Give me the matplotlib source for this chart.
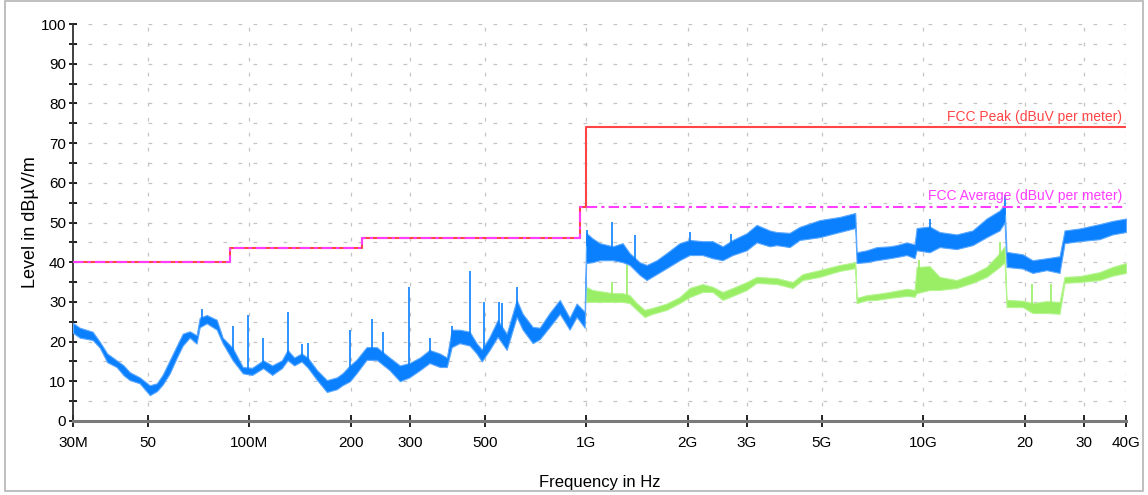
import matplotlib
matplotlib.use("Agg")
import matplotlib.pyplot as plt
from matplotlib.patches import Rectangle

plt.rcParams['font.family'] = ['Liberation Sans', 'DejaVu Sans']

# Peak detector trace (MHz, lower / upper edge of the noise band, dBuV/m)
peak_freq = [30, 31.4, 34.3, 36.0, 37.9, 40.4, 42.4, 44.2, 47.3, 50.7, 53.2, 55.4, 58.1,
             61.0, 63.5, 66.6, 69.8, 71.3, 74.8, 80.1, 83.4, 89.3, 95.7, 102, 110,
             117, 125, 130, 136, 143, 149, 159, 170, 182, 189, 199, 208, 223, 239,
             261, 280, 299, 321, 343, 368, 386, 399, 421, 451, 473, 490, 517, 546,
             581, 622, 648, 694, 728, 779, 835, 893, 937, 990,
             1000, 1003, 1045, 1097, 1199, 1283, 1346, 1441, 1512, 1619, 1733, 1894,
             2028, 2216, 2373, 2541, 2721, 2994, 3206, 3505, 3674, 4017, 4301, 4930,
             5652, 6290, 6348, 6798, 7278, 7953, 8343, 8934, 9436, 9567, 10453,
             11194, 12572, 14023, 15430, 16865, 17450, 17690, 19735, 21136, 23253,
             25410, 26293, 29130, 33390, 36500, 40000]
peak_low = [22.2, 21.0, 20.4, 18.5, 14.8, 13.6, 11.5, 10.3, 9.5, 6.5, 7.5, 9.2, 12.0,
            16.0, 19.0, 21.0, 19.5, 23.6, 24.6, 23.0, 19.6, 15.3, 12.0, 11.6, 13.3,
            11.6, 13.3, 15.3, 14.0, 15.0, 13.5, 10.3, 7.3, 8.0, 9.0, 10.0, 12.0, 15.4, 15.4,
            12.8, 10.0, 11.0, 12.8, 14.6, 13.6, 13.6, 18.6, 19.6, 19.0, 17.0, 15.0, 17.9, 21.2,
            17.9, 26.2, 23.0, 19.6, 20.6, 23.7, 27.0, 23.0, 26.2, 23.5,
            40.0, 39.8, 40.0, 40.5, 40.5, 40.0, 39.3, 36.8, 35.5, 37.0, 38.5, 40.5,
            41.8, 41.8, 41.0, 40.5, 41.8, 43.0, 45.0, 44.0, 44.3, 43.8, 45.6, 46.3,
            47.6, 48.6, 39.8, 40.0, 40.5, 41.0, 41.3, 41.8, 41.0, 43.0, 42.5,
            43.8, 43.3, 44.3, 46.3, 48.0, 50.0, 38.8, 38.4, 37.3, 38.0,
            37.3, 44.8, 45.3, 45.8, 47.0, 47.6]
peak_high = [24.7, 23.5, 22.5, 20.0, 17.0, 15.3, 14.0, 12.3, 11.0, 9.0, 9.5, 11.7, 15.3,
             19.0, 22.0, 22.6, 21.6, 26.0, 26.7, 25.5, 21.0, 18.4, 13.6, 13.4, 15.3,
             14.0, 15.3, 17.9, 16.0, 17.0, 16.0, 12.8, 10.3, 11.0, 12.0, 14.0, 15.4, 18.6, 18.6,
             16.0, 14.0, 14.6, 16.0, 17.9, 17.0, 16.0, 23.0, 23.0, 22.5, 19.6, 18.0, 21.2, 25.4,
             22.0, 30.5, 27.0, 23.7, 23.5, 27.2, 30.5, 26.0, 29.6, 27.5,
             46.0, 47.3, 46.0, 44.8, 44.0, 44.8, 42.3, 40.0, 39.3, 40.5, 42.3, 44.8,
             45.6, 45.3, 45.3, 44.0, 45.6, 47.3, 49.4, 48.0, 47.6, 47.4, 48.9, 50.6,
             51.4, 52.4, 42.5, 43.0, 43.8, 44.0, 44.3, 45.0, 44.5, 48.6, 49.0,
             47.6, 47.0, 48.0, 51.0, 53.0, 54.5, 42.6, 42.0, 40.5, 41.0,
             41.5, 48.0, 48.5, 49.6, 50.4, 51.0]

# Narrow spikes on the peak trace
peak_spike_freq = [72.3, 89.3, 99, 110, 130, 143, 149, 199, 231, 249, 299, 343, 399,
                   451, 497, 551, 561, 622, 1003, 1190, 1393, 2028, 2700, 10453, 17450]
peak_spike_top = [28.2, 24.0, 26.7, 21.0, 27.5, 19.5, 19.6, 23.0, 25.7, 22.4, 33.8, 21.0, 24.0,
                  37.8, 30.0, 30.0, 29.7, 33.7, 48.0, 50.2, 46.8, 47.5, 47.0, 51.0, 57.0]
peak_spike_base = [25, 17, 13, 14, 17, 16, 15, 13, 17, 16, 14, 16, 20,
                   21, 17, 23, 21, 28, 44, 42, 40, 44, 44, 46, 52]

# Average detector trace above 1 GHz
avg_freq = [1000, 1045, 1199, 1283, 1346, 1412, 1491, 1575, 1733, 1894, 2028, 2216,
            2373, 2541, 2721, 2994, 3206, 3674, 4100, 4389, 4930, 5652, 6290, 6348,
            6798, 7278, 7953, 8934, 9436, 9567, 10453, 11194, 12572, 14023, 15430,
            16865, 17450, 17690, 19735, 21136, 23253, 25410, 26293, 29130, 33390,
            36500, 40000]
avg_low = [30.0, 30.0, 30.0, 30.0, 29.7, 28.0, 26.2, 27.0, 28.0, 29.7, 31.2, 32.5,
           32.5, 30.5, 31.5, 33.0, 34.8, 34.5, 33.5, 35.5, 36.3, 37.8, 38.5, 29.7,
           30.4, 30.5, 31.0, 31.5, 31.3, 32.2, 33.0, 33.0, 33.5, 34.8, 36.3,
           38.8, 40.0, 28.7, 28.7, 27.2, 27.2, 27.0, 34.8, 35.0, 35.5,
           36.6, 37.3]
avg_high = [33.8, 33.0, 32.2, 32.2, 31.7, 29.7, 28.0, 28.5, 29.6, 31.2, 33.5, 34.5,
            33.8, 32.5, 33.5, 35.0, 36.3, 36.0, 35.0, 37.0, 38.0, 39.3, 40.0, 31.0,
            31.7, 32.0, 32.5, 33.3, 33.0, 38.8, 39.0, 36.3, 35.5, 37.0, 38.8,
            42.3, 44.0, 30.5, 30.3, 29.7, 30.2, 30.0, 36.3, 36.5, 37.5,
            38.8, 39.8]
avg_spike_freq = [1190, 1319, 9700, 16865, 21000, 24000]
avg_spike_top = [35.0, 39.3, 40.5, 45.0, 34.5, 34.5]
avg_spike_base = [31, 30, 35, 40, 29, 29]

# FCC limit lines (step edges in MHz)
limit_freq = [30, 88, 88, 216, 216, 960, 960, 1000, 1000, 40000]
fcc_peak = [40, 40, 43.5, 43.5, 46, 46, 54, 54, 74, 74]
fcc_avg = [40, 40, 43.5, 43.5, 46, 46, 54, 54, 54, 54]

tick_freq = [30, 50, 100, 200, 300, 500, 1000, 2000, 3000, 5000, 10000, 20000, 30000, 40000]
tick_text = ["30M", "50", "100M", "200", "300", "500", "1G", "2G", "3G", "5G", "10G", "20", "30", "40G"]

blue = "#0a80ff"
green = "#99ee66"
red = "#ff4545"
magenta = "#ff3cff"

fig = plt.figure(figsize=(11.48, 4.95), dpi=100)
ax = fig.add_axes([0.0636, 0.1495, 0.9172, 0.802])
fig.patches.append(Rectangle((5 / 1148, 4 / 495), 1138 / 1148, 490 / 495, transform=fig.transFigure,
                             fill=False, edgecolor="#b4b4b4", lw=1.2))

ax.set_xscale("log")
ax.set_xlim(30, 40000)
ax.set_ylim(0, 100)

# grid: short grey dashes
for y in range(5, 101, 5):
    ax.axhline(y, color="#c4c4c4", lw=0.9, ls=(0, (3, 9)), zorder=0)
for f in tick_freq[1:]:
    ax.axvline(f, color="#c4c4c4", lw=0.9, ls=(0, (3, 9)), zorder=0)

# peak trace
ax.fill_between(peak_freq, peak_low, peak_high, facecolor=blue, edgecolor="#5aa8ff",
                lw=0.8, zorder=3)
ax.vlines(peak_spike_freq, peak_spike_base, peak_spike_top, color=blue, lw=1.2, zorder=3)

# average trace
ax.fill_between(avg_freq, avg_low, avg_high, facecolor=green, edgecolor="#b5f590",
                lw=0.8, zorder=2)
ax.vlines(avg_spike_freq, avg_spike_base, avg_spike_top, color=green, lw=1.2, zorder=2)

# limits
ax.plot(limit_freq, fcc_peak, color=red, lw=1.5, zorder=4)
ax.plot(limit_freq, fcc_avg, color=magenta, lw=1.5, ls=(0, (5, 2, 1.5, 2)), zorder=5)
ax.text(39000, 74.8, "FCC Peak (dBuV per meter)", color=red, fontsize=10,
        ha="right", va="bottom", zorder=6)
ax.text(39000, 54.8, "FCC Average (dBuV per meter)", color=magenta, fontsize=10,
        ha="right", va="bottom", zorder=6)

ax.set_xticks(tick_freq)
ax.set_xticklabels(tick_text)
ax.xaxis.set_minor_locator(matplotlib.ticker.NullLocator())
ax.set_yticks(range(0, 101, 10))
ax.set_yticks(range(5, 100, 10), minor=True)
ax.tick_params(axis="x", direction="inout", length=9, width=1.2, labelsize=11, pad=6)
ax.tick_params(axis="y", which="both", direction="inout", length=6, width=1.2,
               labelsize=11, pad=2)

for side in ("top", "right"):
    ax.spines[side].set_visible(False)
ax.spines["left"].set_color("#303030")
ax.spines["left"].set_linewidth(1.3)
ax.spines["bottom"].set_color("#7a7a7a")
ax.spines["bottom"].set_linewidth(2.2)

ax.set_ylabel("Level in dBµV/m", fontsize=13, labelpad=1)
ax.set_xlabel("Frequency in Hz", fontsize=12, labelpad=18)

fig.savefig("out.png", dpi=100)
